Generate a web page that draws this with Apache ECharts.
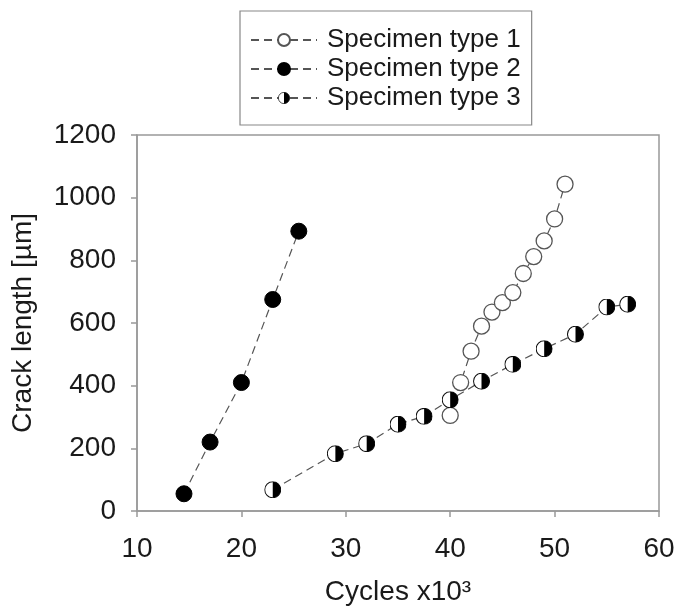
<!DOCTYPE html>
<html>
<head>
<meta charset="utf-8">
<script src="https://cdn.jsdelivr.net/npm/echarts@6/dist/echarts.min.js"></script>
<style>
html,body{margin:0;padding:0;background:#fff;}
#chart{width:678px;height:612px;}
</style>
</head>
<body>
<div id="chart"></div>
<script>
// Data
const seriesNames = ['Specimen type 1', 'Specimen type 2', 'Specimen type 3'];
const type1Cycles = [40, 41, 42, 43, 44, 45, 46, 47, 48, 49, 50, 51];
const type1Crack  = [305, 410, 510, 590, 635, 665, 697, 758, 812, 862, 932, 1043];
const type2Cycles = [14.5, 17, 20, 23, 25.5];
const type2Crack  = [55, 220, 410, 675, 893];
const type3Cycles = [23, 29, 32, 35, 37.5, 40, 43, 46, 49, 52, 55, 57];
const type3Crack  = [68, 183, 215, 277, 302, 355, 414, 468, 518, 564, 651, 660];
const xTicks = [10, 20, 30, 40, 50, 60];
const yTicks = [0, 200, 400, 600, 800, 1000, 1200];

function pairs(xs, ys) { return xs.map((x, i) => [x, ys[i]]); }

const halfSvg = "<svg xmlns='http://www.w3.org/2000/svg' width='40' height='40' viewBox='0 0 40 40'>" +
  "<circle cx='20' cy='20' r='18.8' fill='white' stroke='#111' stroke-width='2.4'/>" +
  "<path d='M20 1.2 A18.8 18.8 0 0 1 20 38.8 Z' fill='#000'/></svg>";
const halfSymbol = 'image://data:image/svg+xml;charset=utf-8,' + encodeURIComponent(halfSvg);

const FONT = '"Liberation Sans", Arial, sans-serif';
const TEXT = '#1a1a1a';
const dashed = { color: '#555', width: 1.2, type: [8, 5] };

const chart = echarts.init(document.getElementById('chart'), null, { renderer: 'canvas' });
chart.setOption({
  animation: false,
  backgroundColor: '#fff',
  textStyle: { fontFamily: FONT },
  grid: {
    left: 137, right: 19, top: 135, bottom: 101,
    show: true, borderColor: '#999', borderWidth: 1.5, backgroundColor: 'transparent'
  },
  legend: {
    orient: 'vertical',
    left: 240, top: 11,
    padding: [16, 11, 14, 10],
    borderColor: '#888', borderWidth: 1.2,
    itemWidth: 66, itemHeight: 15, itemGap: 3,
    textStyle: { fontFamily: FONT, fontSize: 26, color: TEXT, lineHeight: 26, padding: [0, 0, 0, 5] },
    data: seriesNames
  },
  xAxis: {
    type: 'value', min: xTicks[0], max: xTicks[xTicks.length - 1], interval: 10,
    name: 'Cycles x10³', nameLocation: 'middle', nameGap: 67,
    nameTextStyle: { fontFamily: FONT, fontSize: 28, color: TEXT },
    axisLine: { show: true, lineStyle: { color: '#999', width: 1.5 } },
    axisTick: { show: true, inside: false, length: 6, lineStyle: { color: '#999', width: 1.5 } },
    axisLabel: { fontFamily: FONT, fontSize: 28, color: TEXT, margin: 24, formatter: v => String(v) },
    splitLine: { show: false }
  },
  yAxis: {
    type: 'value', min: yTicks[0], max: yTicks[yTicks.length - 1], interval: 200,
    name: 'Crack length [µm]', nameLocation: 'middle', nameGap: 100, nameRotate: 90,
    nameTextStyle: { fontFamily: FONT, fontSize: 28, color: TEXT },
    axisLine: { show: true, lineStyle: { color: '#999', width: 1.5 } },
    axisTick: { show: true, inside: false, length: 6, lineStyle: { color: '#999', width: 1.5 } },
    axisLabel: { fontFamily: FONT, fontSize: 28, color: TEXT, margin: 21, formatter: v => String(v) },
    splitLine: { show: false }
  },
  series: [
    {
      name: seriesNames[0], type: 'line', data: pairs(type1Cycles, type1Crack),
      symbol: 'circle', symbolSize: 16, showAllSymbol: true,
      lineStyle: dashed,
      itemStyle: { color: '#fff', borderColor: '#555', borderWidth: 1.3 },
      z: 3
    },
    {
      name: seriesNames[1], type: 'line', data: pairs(type2Cycles, type2Crack),
      symbol: 'circle', symbolSize: 16, showAllSymbol: true,
      lineStyle: dashed,
      itemStyle: { color: '#000', borderColor: '#000', borderWidth: 1 },
      z: 3
    },
    {
      name: seriesNames[2], type: 'line', data: pairs(type3Cycles, type3Crack),
      symbol: halfSymbol, symbolSize: 17, showAllSymbol: true,
      lineStyle: dashed,
      itemStyle: { color: '#000' },
      z: 4
    }
  ]
});
</script>
</body>
</html>
